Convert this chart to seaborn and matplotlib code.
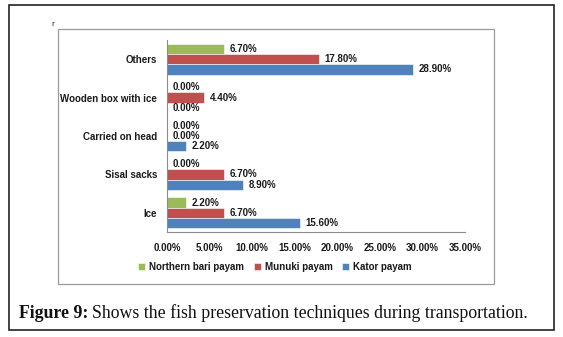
import matplotlib
matplotlib.use("Agg")
import matplotlib.pyplot as plt
import seaborn as sns
import pandas as pd
from matplotlib.patches import Rectangle

categories = ["Others", "Wooden box with ice", "Carried on head", "Sisal sacks", "Ice"]
series = ["Northern bari payam", "Munuki payam", "Kator payam"]
northern_bari = [6.7, 0.0, 0.0, 0.0, 2.2]
munuki = [17.8, 4.4, 0.0, 6.7, 6.7]
kator = [28.9, 0.0, 2.2, 8.9, 15.6]
x_ticks = [0, 5, 10, 15, 20, 25, 30, 35]
colors = ["#9BBB59", "#C0504D", "#4F81BD"]

rows = []
for name, vals in zip(series, [northern_bari, munuki, kator]):
    for cat, v in zip(categories, vals):
        rows.append({"technique": cat, "payam": name, "pct": v})
df = pd.DataFrame(rows)

sns.set_style("white")
plt.rcParams["font.family"] = ["Liberation Sans", "DejaVu Sans"]
plt.rcParams["font.stretch"] = "condensed"

W, H = 563, 337
fig = plt.figure(figsize=(W / 100, H / 100), dpi=100)

# outer frame and inner chart frame
fig.patches.append(Rectangle((9 / W, 1 - 330 / H), 545 / W, 325 / H, transform=fig.transFigure,
                             fill=False, edgecolor="#222222", linewidth=1.2))
fig.patches.append(Rectangle((58 / W, 1 - 284 / H), 436 / W, 255 / H, transform=fig.transFigure,
                             fill=False, edgecolor="#9a9a9a", linewidth=0.9))

ax = fig.add_axes([167 / W, 1 - 232 / H, 298 / W, 192 / H])
sns.barplot(data=df, y="technique", x="pct", hue="payam", order=categories,
            hue_order=series, palette=colors, orient="h", width=0.8,
            saturation=1, edgecolor="white", linewidth=0.4, ax=ax)

fs = 7.0
for cont in ax.containers:
    ax.bar_label(cont, labels=[f"{v:.2f}%" for v in cont.datavalues], padding=4,
                 fontsize=fs, fontweight="bold", color="#1a1a1a")

ax.set_xlim(0, 35)
ax.set_xticks(x_ticks)
ax.set_xticklabels([f"{t:.2f}%" for t in x_ticks], fontsize=fs, fontweight="bold",
                   color="#1a1a1a")
ax.tick_params(axis="x", pad=8, length=0)
ax.tick_params(axis="y", pad=7, length=0, labelsize=fs, labelcolor="#1a1a1a")
for lab in ax.get_yticklabels():
    lab.set_fontweight("bold")
ax.set_xlabel("")
ax.set_ylabel("")
for side in ["top", "right"]:
    ax.spines[side].set_visible(False)
for side in ["left", "bottom"]:
    ax.spines[side].set_color("#8c8c8c")
    ax.spines[side].set_linewidth(0.8)

handles, labels = ax.get_legend_handles_labels()
ax.get_legend().remove()
leg = fig.legend(handles, labels, loc="center", bbox_to_anchor=(275 / W, 1 - 267 / H), ncol=3,
                 frameon=False, handlelength=0.7, handleheight=0.7,
                 handletextpad=0.4, columnspacing=1.0, prop={"weight": "bold", "size": fs})
for t in leg.get_texts():
    t.set_color("#1a1a1a")

fig.text(53 / W, 1 - 24 / H, "r", fontsize=6, ha="center", va="center")

cap_y = 1 - 313 / H
t1 = fig.text(19 / W, cap_y, "Figure 9:", fontsize=12.8, fontweight="bold",
              family="Liberation Serif", va="center", color="#111111")
fig.canvas.draw()
bb = t1.get_window_extent()
fig.text(bb.x1 / W + 4 / W, cap_y, "Shows the fish preservation techniques during transportation.",
         fontsize=12.8, family="Liberation Serif", va="center", color="#111111")

fig.savefig("out.png", dpi=100)
